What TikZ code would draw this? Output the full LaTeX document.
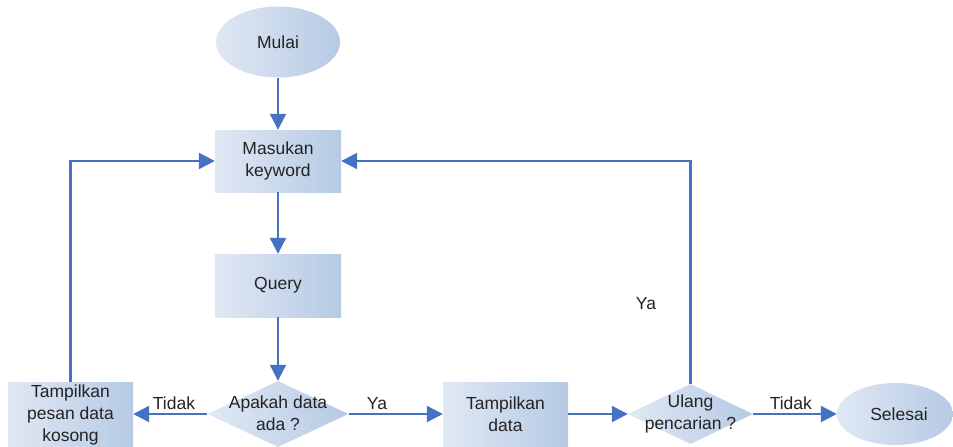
\documentclass[tikz,border=0pt]{standalone}
\usepackage{fontspec}
\setmainfont{Liberation Sans}
\usetikzlibrary{shapes.geometric,arrows.meta}
\definecolor{fillA}{RGB}{224,232,244}
\definecolor{fillB}{RGB}{182,202,228}
\definecolor{flow}{RGB}{70,114,196}
\definecolor{ink}{RGB}{35,35,35}
\begin{document}
\begin{tikzpicture}[x=1pt,y=-1pt,
  every node/.style={font=\fontsize{17.5}{22}\selectfont, text=ink, align=center},
  proc/.style={rectangle, left color=fillA, right color=fillB, minimum width=126pt, minimum height=62pt, inner sep=0pt},
  term/.style={ellipse, left color=fillA, right color=fillB, inner sep=0pt},
  decision/.style={diamond, left color=fillA, right color=fillB, inner sep=0pt},
  flowline/.style={draw=flow, line width=2.2pt, -{Triangle[length=16pt,width=16pt]}},
  lbl/.style={font=\fontsize{17.5}{20}\selectfont}
]
\useasboundingbox (0,0) rectangle (953,447);

% terminals
\node[term, minimum width=124pt, minimum height=71pt] (mulai) at (278,42) {Mulai};
\node[term, minimum width=116pt, minimum height=62pt] (selesai) at (895,414) {};
\node at (899,414) {Selesai};

% process boxes
\node[proc] (masuk) at (278,161) {Masukan\\keyword};
\node[proc, minimum height=63pt] (query) at (278,285.5) {Query};
\node[proc, minimum width=125pt, minimum height=64pt] (kosong) at (70.5,414) {};
\node at (70.5,415) {Tampilkan\\pesan data\\kosong};
\node[proc, minimum width=125pt, minimum height=64pt] (tampil) at (505.5,414) {};
\node at (505.5,414) {Tampilkan\\data};

% decisions (text set separately so it may overhang the outline)
\node[decision, minimum width=141pt, minimum height=66pt] (apakah) at (278,414) {};
\node at (278,413) {Apakah data\\ada ?};
\node[decision, minimum width=125pt, minimum height=60pt] (ulang) at (690.5,414) {};
\node at (690.5,414) {Ulang\\pencarian ?};

% connectors
\draw[flowline] (mulai) -- (masuk);
\draw[flowline] (masuk) -- (query);
\draw[flowline] (query) -- (apakah);
\draw[flowline] (apakah) -- node[lbl, above=0pt, pos=0.45] {Tidak} (kosong);
\draw[flowline] (apakah) -- node[lbl, above=0pt, pos=0.3] {Ya} (tampil);
\draw[flowline] (tampil) -- (ulang);
\draw[flowline] (ulang) -- node[lbl, above=0pt, pos=0.45] {Tidak} (selesai);
\draw[flowline] (ulang.north) |- node[lbl, pos=0.18, left=30pt] {Ya} (masuk.east);
\draw[flowline] (kosong.north) |- (masuk.west);
\end{tikzpicture}
\end{document}
